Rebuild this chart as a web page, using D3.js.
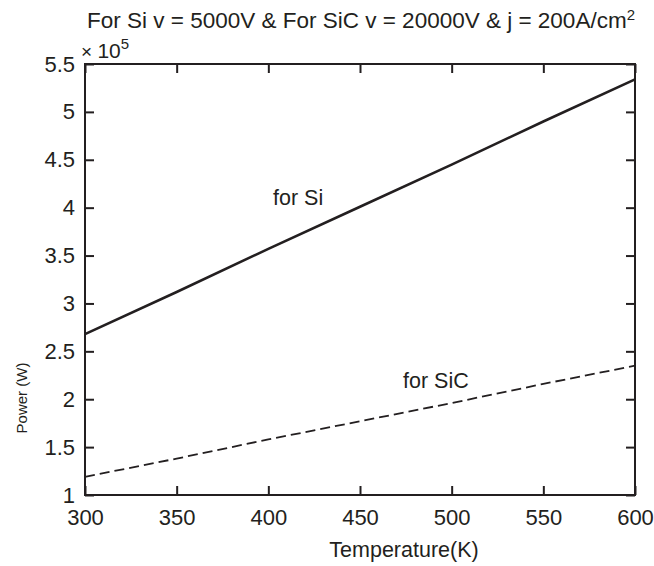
<!DOCTYPE html>
<html>
<head>
<meta charset="utf-8">
<script src="https://cdn.jsdelivr.net/npm/d3@7"></script>
<style>
  body { margin: 0; background: #fff; }
  svg { font-family: "Liberation Sans", Arial, Helvetica, sans-serif; }
  .axis text { font-size: 22px; fill: #231f20; }
  .axis line { stroke: #231f20; stroke-width: 2; }
</style>
</head>
<body>
<div id="chart"></div>
<script>
// temperatures (K) and power (x 10^5 W)
let temps = [300, 350, 400, 450, 500, 550, 600];
let powerSi = [2.68, 3.12, 3.57, 4.01, 4.45, 4.90, 5.34];
let powerSiC = [1.19, 1.38, 1.58, 1.77, 1.96, 2.16, 2.35];
let xTicks = [300, 350, 400, 450, 500, 550, 600];
let yTicks = [1, 1.5, 2, 2.5, 3, 3.5, 4, 4.5, 5, 5.5];

let width = 654,
    height = 566,
    ink = '#231f20';

let x = d3.scaleLinear().domain([300, 600]).range([85, 635]);
let y = d3.scaleLinear().domain([1, 5.5]).range([495, 64]);

let svg = d3.select('#chart').append('svg')
    .attr('width', width)
    .attr('height', height);

let fmt = d => (d % 1 ? d.toFixed(1) : d);

// axes with inward ticks, labels only on bottom and left
svg.append('g').attr('class', 'axis')
    .attr('transform', 'translate(0,495)')
    .call(d3.axisBottom(x).tickValues(xTicks).tickSize(-9).tickPadding(14))
    .call(g => g.select('.domain').remove());

svg.append('g').attr('class', 'axis')
    .attr('transform', 'translate(85,0)')
    .call(d3.axisLeft(y).tickValues(yTicks).tickSize(-9).tickPadding(10).tickFormat(fmt))
    .call(g => g.select('.domain').remove());

svg.append('g').attr('class', 'axis')
    .attr('transform', 'translate(0,64)')
    .call(d3.axisTop(x).tickValues(xTicks).tickSize(-9).tickFormat(''))
    .call(g => g.select('.domain').remove());

svg.append('g').attr('class', 'axis')
    .attr('transform', 'translate(635,0)')
    .call(d3.axisRight(y).tickValues(yTicks).tickSize(-9).tickFormat(''))
    .call(g => g.select('.domain').remove());

// frame
svg.append('rect')
    .attr('x', x(300)).attr('y', y(5.5))
    .attr('width', x(600) - x(300)).attr('height', y(1) - y(5.5))
    .attr('fill', 'none').attr('stroke', ink).attr('stroke-width', 2);

let line = d3.line()
    .x((d, i) => x(temps[i]))
    .y(d => y(d));

svg.append('path')
    .datum(powerSi)
    .attr('d', line)
    .attr('fill', 'none')
    .attr('stroke', ink)
    .attr('stroke-width', 2.6);

svg.append('path')
    .datum(powerSiC)
    .attr('d', line)
    .attr('fill', 'none')
    .attr('stroke', ink)
    .attr('stroke-width', 1.8)
    .attr('stroke-dasharray', '10,5');

// text
let title = svg.append('text')
    .attr('x', 361).attr('y', 28)
    .attr('text-anchor', 'middle')
    .attr('font-size', 22.5)
    .attr('fill', ink);
title.append('tspan').text('For Si v = 5000V & For SiC v = 20000V & j = 200A/cm');
title.append('tspan').attr('font-size', 15).attr('dy', -8).text('2');

let mult = svg.append('text')
    .attr('x', 81).attr('y', 58)
    .attr('font-size', 21)
    .attr('fill', ink);
mult.append('tspan').attr('font-size', 19).text('\u00d7 ');
mult.append('tspan').text('10');
mult.append('tspan').attr('font-size', 15).attr('dy', -9).text('5');

svg.append('text')
    .attr('x', 404).attr('y', 557)
    .attr('text-anchor', 'middle')
    .attr('font-size', 21.5)
    .attr('fill', ink)
    .text('Temperature(K)');

svg.append('text')
    .attr('transform', 'translate(27,398) rotate(-90)')
    .attr('text-anchor', 'middle')
    .attr('font-size', 15)
    .attr('fill', ink)
    .text('Power (W)');

svg.append('text')
    .attr('x', 273).attr('y', 205)
    .attr('font-size', 21.5)
    .attr('fill', ink)
    .text('for Si');

svg.append('text')
    .attr('x', 403).attr('y', 388)
    .attr('font-size', 21.5)
    .attr('fill', ink)
    .text('for SiC');
</script>
</body>
</html>
